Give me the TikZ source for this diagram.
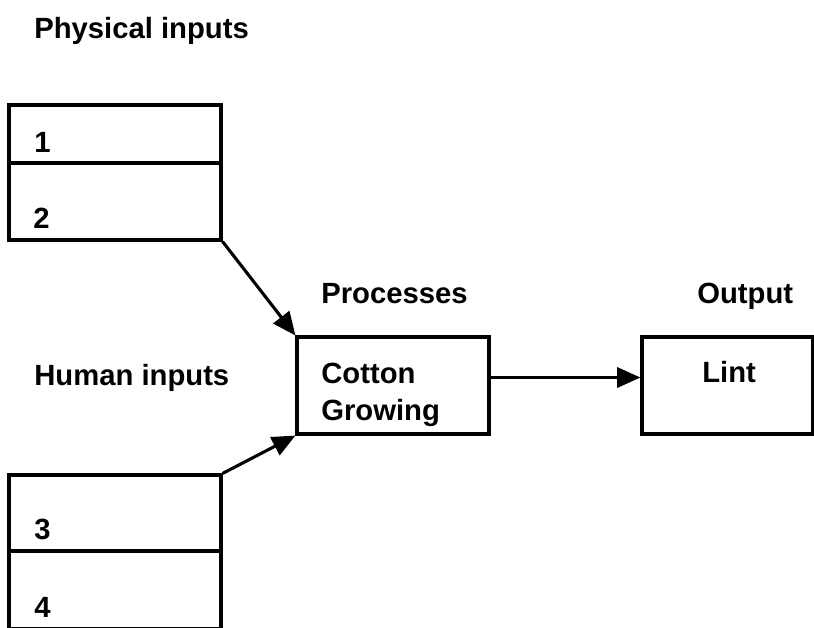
\documentclass[tikz,border=0pt]{standalone}
\usepackage{fontspec}
\setmainfont{Liberation Sans}
\usetikzlibrary{arrows.meta}
\begin{document}
\begin{tikzpicture}[x=0.025cm, y=-0.025cm,
    every node/.style={font=\bfseries\fontsize{20.8}{25}\selectfont, inner sep=0pt},
    box/.style={draw, line width=2.2pt},
    inbox/.style={box, minimum width=5.3cm},
    arr/.style={line width=2.2pt, -{Triangle[length=0.58cm, width=0.5cm]}}]
  \useasboundingbox (0,0) rectangle (814,627);
  % input boxes
  \node[inbox, minimum height=1.45cm] (b1) at (115,134) {};
  \node[inbox, minimum height=1.925cm] (b2) at (115,201.5) {};
  \node[inbox, minimum height=1.9cm] (b3) at (115,513) {};
  \node[inbox, minimum height=1.95cm] (b4) at (115,590) {};
  \node[anchor=base west] (n1) at (34,152) {1};
  \node[anchor=base west] (n2) at (33,228) {2};
  \node[anchor=base west] (n3) at (34,539) {3};
  \node[anchor=base west] (n4) at (34,617) {4};
  % process and output
  \node[box, minimum width=4.8cm, minimum height=2.425cm] (cot) at (393,385.5) {};
  \node[box, minimum width=4.275cm, minimum height=2.425cm] (lint) at (727.5,385.5) {};
  \node[anchor=base west] (cottxt) at (321,383) {Cotton};
  \node[anchor=base west] (growtxt) at (321,420) {Growing};
  \node[anchor=base west] (linttxt) at (702,382) {Lint};
  % headings
  \node[anchor=base west] (phys) at (34,38) {Physical inputs};
  \node[anchor=base west] (hum) at (34,385) {Human inputs};
  \node[anchor=base west] (proc) at (321,303) {Processes};
  \node[anchor=base west] (outp) at (697,303) {Output};
  % connectors
  \draw[arr] (b2.south east) -- (cot.north west);
  \draw[arr] (b3.north east) -- (cot.south west);
  \draw[arr] ([yshift=0.2cm]cot.east) -- ([yshift=0.2cm]lint.west);
\end{tikzpicture}
\end{document}
